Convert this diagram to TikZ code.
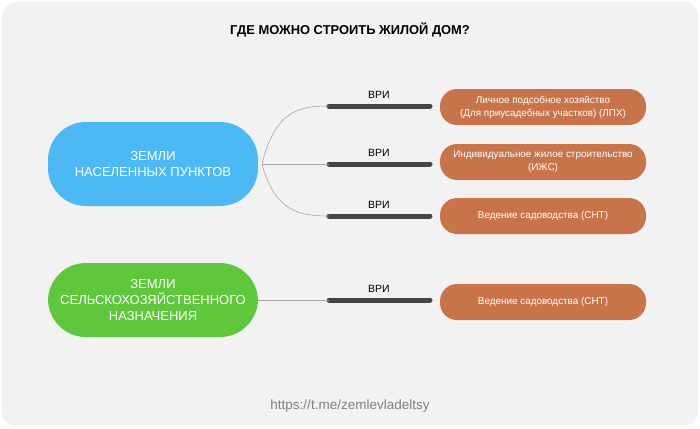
\documentclass[tikz,border=0pt]{standalone}
\usepackage{fontspec}
\setmainfont{Liberation Sans}
\begin{document}
\begin{tikzpicture}[x=1pt,y=-1pt,
  big/.style={rounded corners=38pt,minimum width=210pt,text=white,font=\fontsize{13}{16}\selectfont,align=center},
  orange/.style={fill=orangec,rounded corners=17pt,minimum width=206pt,minimum height=36pt,text=white,font=\fontsize{9.9}{13}\selectfont,align=center},
  bar/.style={line width=5pt,draw=barc,line cap=round},
  vri/.style={font=\fontsize{10.5}{12}\selectfont},
  thin/.style={draw=gray!70,line width=0.6pt}]
\definecolor{orangec}{HTML}{C9734B}
\definecolor{barc}{HTML}{454545}
\definecolor{bluec}{HTML}{4CB8F4}
\definecolor{greenc}{HTML}{5EC73B}
\useasboundingbox (0,0) rectangle (700,428);
\fill[white] (0,0) rectangle (700,428);
\fill[gray!10,rounded corners=14pt] (2,2) rectangle (698,426);
\node[font=\bfseries\fontsize{12.9}{15}\selectfont] (title) at (350,30) {ГДЕ МОЖНО СТРОИТЬ ЖИЛОЙ ДОМ?};
\node[big,fill=bluec,minimum height=84pt] (blue) at (153,164) {ЗЕМЛИ\\НАСЕЛЕННЫХ ПУНКТОВ};
\node[big,fill=greenc,minimum height=74pt] (green) at (153,300) {ЗЕМЛИ\\СЕЛЬСКОХОЗЯЙСТВЕННОГО\\НАЗНАЧЕНИЯ};
\coordinate (s) at (262,164);
\foreach \i/\y in {1/106,2/164,3/216,4/300}{
  \coordinate (b\i l) at (329,\y); \coordinate (b\i r) at (430,\y);
  \draw[bar] (b\i l) -- (b\i r);
  \node[vri] (v\i) at (379,\y-11) {ВРИ};
}
\draw[thin] (s) .. controls (275,110) and (300,106) .. (b1l);
\draw[thin] (s) -- (b2l);
\draw[thin] (s) .. controls (275,212) and (300,216) .. (b3l);
\draw[thin] (green.east) -- (b4l);
\node[orange] (o1) at (543,107) {Личное подсобное хозяйство\\(Для приусадебных участков) (ЛПХ)};
\node[orange] (o2) at (543,162) {Индивидуальное жилое строительство\\(ИЖС)};
\node[orange] (o3) at (543,216) {Ведение садоводства (СНТ)};
\node[orange] (o4) at (543,302) {Ведение садоводства (СНТ)};
\node[text=gray,font=\fontsize{13.5}{15}\selectfont] (url) at (350,406) {https://t.me/zemlevladeltsy};
\end{tikzpicture}
\end{document}
